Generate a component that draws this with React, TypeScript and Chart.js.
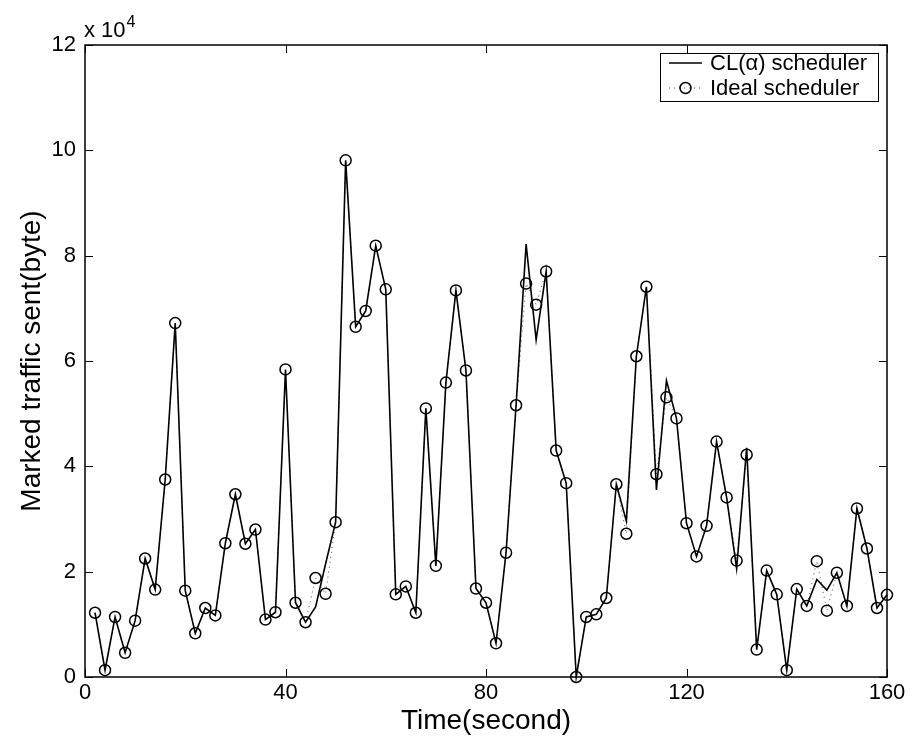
import React, { useEffect, useRef } from "react";
import { Chart, registerables } from "chart.js";

Chart.register(...registerables);

// Time (second)
const timeSec = [
  2, 4, 6, 8, 10, 12, 14, 16, 18, 20,
  22, 24, 26, 28, 30, 32, 34, 36, 38, 40,
  42, 44, 46, 48, 50, 52, 54, 56, 58, 60,
  62, 64, 66, 68, 70, 72, 74, 76, 78, 80,
  82, 84, 86, 88, 90, 92, 94, 96, 98, 100,
  102, 104, 106, 108, 110, 112, 114, 116, 118, 120,
  122, 124, 126, 128, 130, 132, 134, 136, 138, 140,
  142, 144, 146, 148, 150, 152, 154, 156, 158, 160,
];

// Ideal scheduler, marked traffic sent (x 10^4 byte)
const idealTraffic = [
  1.22, 0.13, 1.14, 0.46, 1.07, 2.25, 1.66, 3.75, 6.72, 1.64,
  0.83, 1.31, 1.17, 2.54, 3.47, 2.53, 2.80, 1.09, 1.23, 5.84,
  1.41, 1.04, 1.88, 1.58, 2.94, 9.81, 6.65, 6.95, 8.19, 7.36,
  1.57, 1.72, 1.22, 5.10, 2.11, 5.59, 7.34, 5.82, 1.68, 1.41,
  0.64, 2.36, 5.16, 7.47, 7.07, 7.70, 4.30, 3.68, 0.00, 1.14,
  1.19, 1.50, 3.66, 2.72, 6.09, 7.41, 3.85, 5.31, 4.91, 2.92,
  2.29, 2.87, 4.47, 3.41, 2.21, 4.22, 0.52, 2.02, 1.57, 0.13,
  1.67, 1.35, 2.20, 1.26, 1.98, 1.35, 3.20, 2.44, 1.31, 1.56,
];

// CL(alpha) scheduler, marked traffic sent (x 10^4 byte)
const clTraffic = [
  1.22, 0.13, 1.14, 0.46, 1.07, 2.25, 1.66, 3.75, 6.72, 1.64,
  0.83, 1.31, 1.17, 2.54, 3.47, 2.53, 2.80, 1.09, 1.23, 5.84,
  1.41, 1.04, 1.33, 2.15, 2.94, 9.81, 6.65, 6.95, 8.19, 7.36,
  1.57, 1.72, 1.22, 5.10, 2.11, 5.59, 7.34, 5.82, 1.68, 1.41,
  0.64, 2.36, 5.16, 8.22, 6.40, 7.70, 4.30, 3.68, 0.00, 1.14,
  1.19, 1.50, 3.66, 2.96, 6.09, 7.41, 3.55, 5.63, 4.91, 2.92,
  2.29, 2.87, 4.47, 3.41, 2.06, 4.35, 0.52, 2.02, 1.57, 0.13,
  1.67, 1.35, 1.85, 1.65, 1.98, 1.35, 3.20, 2.44, 1.31, 1.56,
];

const xTickValues = [0, 40, 80, 120, 160];
const yTickValues = [0, 2, 4, 6, 8, 10, 12];

const seriesNames = ["CL(\u03b1) scheduler", "Ideal scheduler"];
const xTitle = "Time(second)";
const yTitle = "Marked traffic sent(byte)";
const FONT = '"Liberation Sans", Arial, Helvetica, sans-serif';

const framePlugin = {
  id: "matlabFrame",
  afterDraw(chart: any) {
    const { ctx, chartArea, scales } = chart;
    const { left, right, top, bottom } = chartArea;
    const xs = scales.x;
    const ys = scales.y;
    ctx.save();
    ctx.strokeStyle = "#000";
    ctx.lineWidth = 1.5;
    ctx.strokeRect(left, top, right - left, bottom - top);

    // inward ticks on all four sides
    ctx.lineWidth = 1;
    const tl = 8;
    ctx.beginPath();
    for (const v of xTickValues) {
      const px = Math.round(xs.getPixelForValue(v)) + 0.5;
      ctx.moveTo(px, bottom);
      ctx.lineTo(px, bottom - tl);
      ctx.moveTo(px, top);
      ctx.lineTo(px, top + tl);
    }
    for (const v of yTickValues) {
      const py = Math.round(ys.getPixelForValue(v)) + 0.5;
      ctx.moveTo(left, py);
      ctx.lineTo(left + tl, py);
      ctx.moveTo(right, py);
      ctx.lineTo(right - tl, py);
    }
    ctx.stroke();

    // exponent label
    ctx.fillStyle = "#000";
    ctx.textBaseline = "alphabetic";
    ctx.textAlign = "left";
    ctx.font = `22px ${FONT}`;
    const base = "x 10";
    ctx.fillText(base, left - 1, 37);
    const w = ctx.measureText(base).width;
    ctx.font = `16px ${FONT}`;
    ctx.fillText("4", left - 1 + w + 1, 27);

    // legend box
    ctx.font = `22px ${FONT}`;
    const tw = Math.max(
      ctx.measureText(seriesNames[0]).width,
      ctx.measureText(seriesNames[1]).width
    );
    const bRight = right - 9;
    const textX = bRight - 11 - tw;
    const bx = textX - 50;
    const by = top + 8;
    const bw = bRight - bx;
    const bh = 48;
    ctx.fillStyle = "#fff";
    ctx.fillRect(bx, by, bw, bh);
    ctx.strokeStyle = "#000";
    ctx.lineWidth = 1;
    ctx.strokeRect(Math.round(bx) + 0.5, Math.round(by) + 0.5, Math.round(bw), bh);

    const row1 = by + 10;
    const row2 = by + 35;
    const lx1 = bx + 9;
    const lx2 = bx + 42;
    // CL sample
    ctx.lineWidth = 1.6;
    ctx.setLineDash([]);
    ctx.beginPath();
    ctx.moveTo(lx1, row1);
    ctx.lineTo(lx2, row1);
    ctx.stroke();
    // Ideal sample
    ctx.lineWidth = 1;
    ctx.strokeStyle = "#444";
    ctx.setLineDash([1, 4]);
    ctx.beginPath();
    ctx.moveTo(lx1, row2);
    ctx.lineTo(lx2, row2);
    ctx.stroke();
    ctx.setLineDash([]);
    ctx.strokeStyle = "#000";
    ctx.lineWidth = 1.5;
    ctx.beginPath();
    ctx.arc((lx1 + lx2) / 2, row2, 5.5, 0, Math.PI * 2);
    ctx.stroke();

    ctx.fillStyle = "#000";
    ctx.textBaseline = "middle";
    ctx.fillText(seriesNames[0], textX, row1 + 1);
    ctx.fillText(seriesNames[1], textX, row2 + 1);
    ctx.restore();
  },
};

export default function App() {
  const canvasRef = useRef<HTMLCanvasElement | null>(null);

  useEffect(() => {
    if (!canvasRef.current) return;
    const clPoints = timeSec.map((t, i) => ({ x: t, y: clTraffic[i] }));
    const idealPoints = timeSec.map((t, i) => ({ x: t, y: idealTraffic[i] }));

    const chart = new Chart(canvasRef.current, {
      type: "line",
      data: {
        datasets: [
          {
            label: seriesNames[0],
            data: clPoints,
            borderColor: "#000",
            borderWidth: 1.6,
            pointRadius: 0,
            tension: 0,
            fill: false,
            clip: false as any,
          },
          {
            label: seriesNames[1],
            data: idealPoints,
            borderColor: "#444",
            borderWidth: 1,
            borderDash: [1, 4],
            pointRadius: 5.5,
            pointBorderWidth: 1.5,
            pointBorderColor: "#000",
            pointBackgroundColor: "rgba(0,0,0,0)",
            pointStyle: "circle",
            tension: 0,
            fill: false,
            clip: false as any,
          },
        ],
      },
      options: {
        responsive: false,
        animation: false,
        events: [],
        layout: { padding: { left: 0, top: 45, right: 26, bottom: 0 } },
        plugins: {
          legend: { display: false },
          tooltip: { enabled: false },
          title: { display: false },
        },
        scales: {
          x: {
            type: "linear",
            min: 0,
            max: 160,
            grid: { display: false, drawTicks: false },
            border: { display: false },
            afterBuildTicks: (scale: any) => {
              scale.ticks = xTickValues.map((v) => ({ value: v }));
            },
            afterFit: (scale: any) => {
              scale.height = 74;
            },
            ticks: {
              color: "#000",
              font: { family: FONT, size: 22 },
              padding: 3,
              maxRotation: 0,
              autoSkip: false,
            },
            title: {
              display: true,
              text: xTitle,
              color: "#000",
              font: { family: FONT, size: 28 },
              padding: { top: 0, bottom: 13 },
            },
          },
          y: {
            type: "linear",
            min: 0,
            max: 12,
            grid: { display: false, drawTicks: false },
            border: { display: false },
            afterBuildTicks: (scale: any) => {
              scale.ticks = yTickValues.map((v) => ({ value: v }));
            },
            afterFit: (scale: any) => {
              scale.width = 85;
            },
            ticks: {
              color: "#000",
              font: { family: FONT, size: 22 },
              padding: 9,
              autoSkip: false,
            },
            title: {
              display: true,
              text: yTitle,
              color: "#000",
              font: { family: FONT, size: 28 },
              padding: { top: 15, bottom: 0 },
            },
          },
        },
      },
      plugins: [framePlugin],
    });
    return () => chart.destroy();
  }, []);

  return (
    <div style={{ position: "fixed", left: 0, top: 0, width: 913, height: 751, background: "#fff" }}>
      <canvas ref={canvasRef} width={913} height={751} style={{ display: "block", width: 913, height: 751 }} />
    </div>
  );
}
